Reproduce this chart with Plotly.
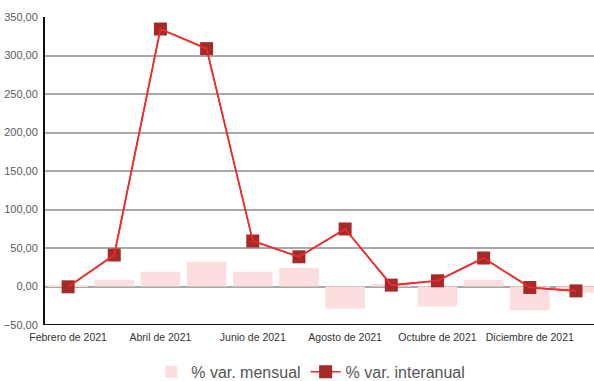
import plotly.graph_objects as go

# Months from February 2021 to January 2022
meses = ["Febrero de 2021", "Marzo de 2021", "Abril de 2021", "Mayo de 2021",
         "Junio de 2021", "Julio de 2021", "Agosto de 2021", "Septiembre de 2021",
         "Octubre de 2021", "Noviembre de 2021", "Diciembre de 2021", "Enero de 2022"]

# Monthly percentage change (bars)
var_mensual = [1.0, 8.7, 19.1, 32.1, 19.1, 24.3, -28.6, 3.1, -26.0, 8.7, -31.2, -7.8]

# Year-on-year percentage change (line with markers)
var_interanual = [-0.4, 40.9, 334.4, 308.9, 59.1, 38.6, 74.7, 1.8, 7.4, 37.0, -1.3, -5.7]

# Y-axis ticks
y_ticks = [-50, 0, 50, 100, 150, 200, 250, 300, 350]

FONT = "Liberation Sans"
LINE_COLOR = "#f22a2a"
MARKER_COLOR = "#a52a2a"

x_idx = list(range(len(meses)))

fig = go.Figure()

fig.add_trace(go.Bar(
    x=x_idx,
    y=var_mensual,
    name="% var. mensual",
    marker=dict(color="#fddede", line=dict(width=0)),
    width=0.86,
))

# Markers (with legend entry), then the connecting line drawn on top of them
fig.add_trace(go.Scatter(
    x=x_idx,
    y=var_interanual,
    name="% var. interanual",
    legendgroup="inter",
    mode="lines+markers",
    line=dict(color=LINE_COLOR, width=1.6),
    marker=dict(symbol="square", size=13, color=MARKER_COLOR),
))
fig.add_trace(go.Scatter(
    x=x_idx,
    y=var_interanual,
    legendgroup="inter",
    showlegend=False,
    mode="lines",
    line=dict(color=LINE_COLOR, width=1.6),
    hoverinfo="skip",
))

fig.update_layout(
    width=594,
    height=381,
    margin=dict(l=45, r=0, t=17, b=56),
    paper_bgcolor="white",
    plot_bgcolor="white",
    separators=",.",
    font=dict(family=FONT, color="#555555"),
    showlegend=True,
    legend=dict(
        orientation="h",
        x=0.484, xanchor="center", xref="paper",
        y=0.024, yanchor="middle", yref="container",
        font=dict(family=FONT, size=16, color="#555555"),
        itemwidth=30,
        traceorder="normal",
    ),
    xaxis=dict(
        range=[-0.5, 11.39],
        tickmode="array",
        tickvals=x_idx[::2],
        ticktext=meses[::2],
        tickfont=dict(family=FONT, size=10.5, color="#333333"),
        showgrid=False,
        zeroline=False,
        showline=False,
        ticks="",
        ticklabelstandoff=4,
        fixedrange=True,
    ),
    yaxis=dict(
        range=[-50, 350],
        tickmode="array",
        tickvals=y_ticks,
        tickformat=".2f",
        tickfont=dict(family=FONT, size=11, color="#5a5a5a"),
        showgrid=True,
        gridcolor="#a8a8a8",
        gridwidth=1.5,
        zeroline=True,
        zerolinecolor="#a8a8a8",
        zerolinewidth=1.5,
        showline=True,
        linecolor="#111111",
        linewidth=2,
        ticks="",
        ticklabelstandoff=3,
    ),
)

# Black baseline at the bottom of the plot area
fig.add_shape(type="line", xref="paper", yref="y", x0=0, x1=1, y0=-50, y1=-50,
              line=dict(color="#111111", width=2), layer="above")

fig.write_html("out.html")
